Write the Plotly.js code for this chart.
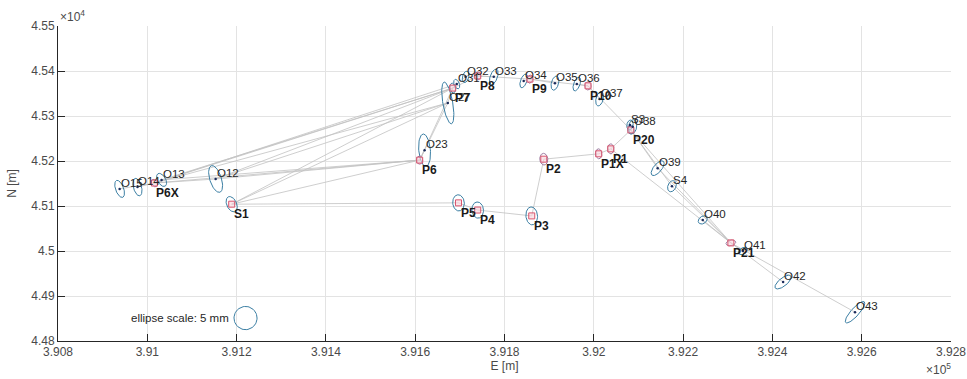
<!DOCTYPE html>
<html>
<head>
<meta charset="utf-8">
<script src="https://cdn.plot.ly/plotly-3.0.1.min.js"></script>
<style>html,body{margin:0;padding:0;background:#fff;}#chart{width:967px;height:379px;}</style>
</head>
<body>
<div id="chart"></div>
<script>
// ---- data ----
const pointNames = ['O15','O14','O13','P6X','O12','S1','O23','P6','O27','P7','O31','O32','P8','O33','O34','P9','O35','O36','P10','O37','S3','O38','P20','P1','P1X','P2','P3','P4','P5','O39','S4','O40','P21','O41','O42','O43'];
const pointE = [390938,390978,391032,391016,391153,391189,391621,391610,391673,391684,391693,391713,391740,391776,391843,391857,391913,391962,391987,392013,392081,392087,392083,392038,392011,391888,391861,391740,391697,392143,392175,392244,392307,392334,392424,392585];
const pointN = [45138,45142,45158,45151,45160,45104,45224,45202,45329,45362,45371,45387,45389,45387,45378,45382,45373,45371,45367,45338,45280,45276,45269,45227,45216,45204,45078,45091,45107,45184,45144,45069,45018,45000,44931,44864];
// station (bold, square) or observed point
const pointKind = ['o','o','o','s','o','s','o','s','o','s','o','o','s','o','o','s','o','o','s','o','o','o','s','s','s','s','s','s','s','o','o','o','s','o','o','o'];
// ellipse tint: b = blue, m = mauve
const ellTint = ['b','b','b','m','b','b','b','m','b','b','b','b','m','b','b','m','b','b','m','b','b','b','b','m','m','m','b','b','b','b','b','b','m','b','b','b'];
// error ellipse semi-axes [m] and orientation [deg]
const ellA = [20,20,16,9,31,18,36,9,47,11,11,13,9,18,16,9,16,16,9,16,11,16,9,11,11,13,20,18,18,20,13,11,11,11,22,31];
const ellB = [9,9,9,6,13,11,13,7,11,6,6,7,7,8,7,6,8,7,7,8,7,9,7,7,7,9,13,13,13,9,9,8,6,7,9,9];
const ellAng = [110,105,120,120,108,115,95,90,100,100,110,75,90,70,70,80,75,70,90,75,80,80,90,90,95,95,95,95,95,50,65,35,10,30,38,48];
const edges = [['P6X','O15'],['P6X','O14'],['P6X','O13'],['P6X','O12'],
 ['P7','P6X'],['P7','O13'],['P7','O12'],['P7','S1'],['O27','P6X'],['O27','O12'],['O31','P6X'],['O27','S1'],
 ['P6','P6X'],['P6','O13'],['P6','O12'],['P6','S1'],['P6','O23'],['P6','O27'],['P6','P7'],
 ['P7','O27'],['P7','O31'],['P7','O32'],['P7','P8'],['P8','O32'],['P8','O33'],['P8','P9'],
 ['P9','O34'],['P9','O35'],['P9','P10'],['P10','O36'],['P10','O37'],['P10','P20'],
 ['P20','S3'],['P20','O38'],['P20','P1'],['P1','P1X'],['P1X','P2'],['P2','P3'],['P3','P4'],['P4','P5'],['P5','S1'],
 ['P20','O39'],['P20','S4'],['P20','P21'],['P1','P21'],
 ['P21','O39'],['P21','S4'],['P21','O40'],['P21','O41'],['P21','O42'],['P21','O43']];
const scaleCircleE = 391220, scaleCircleN = 44851, scaleCircleR = 25.8;
const scaleText = 'ellipse scale: 5 mm';
const xTickVals = [390800,391000,391200,391400,391600,391800,392000,392200,392400,392600,392800];
const xTickText = ['3.908','3.91','3.912','3.914','3.916','3.918','3.92','3.922','3.924','3.926','3.928'];
const yTickVals = [44800,44900,45000,45100,45200,45300,45400,45500];
const yTickText = ['4.48','4.49','4.5','4.51','4.52','4.53','4.54','4.55'];

// ---- build ----
const idx = {}; pointNames.forEach((n,i)=>idx[n]=i);
const lx=[], ly=[];
edges.forEach(([a,b])=>{lx.push(pointE[idx[a]],pointE[idx[b]],null);ly.push(pointN[idx[a]],pointN[idx[b]],null);});

function ellipse(cx,cy,a,b,angDeg,xs,ys){
  const th=angDeg*Math.PI/180;
  for(let k=0;k<=60;k++){const t=2*Math.PI*k/60;
    xs.push(cx+a*Math.cos(th)*Math.cos(t)-b*Math.sin(th)*Math.sin(t));
    ys.push(cy+a*Math.sin(th)*Math.cos(t)+b*Math.cos(th)*Math.sin(t));}
  xs.push(null);ys.push(null);
}
const ebX=[],ebY=[],emX=[],emY=[];
pointNames.forEach((n,i)=>{
  if(ellTint[i]==='b') ellipse(pointE[i],pointN[i],ellA[i],ellB[i],ellAng[i],ebX,ebY);
  else ellipse(pointE[i],pointN[i],ellA[i],ellB[i],ellAng[i],emX,emY);
});
const cX=[],cY=[]; ellipse(scaleCircleE,scaleCircleN,scaleCircleR,scaleCircleR,0,cX,cY);

const oI = pointNames.map((n,i)=>i).filter(i=>pointKind[i]==='o');
const sI = pointNames.map((n,i)=>i).filter(i=>pointKind[i]==='s');

const traces = [
 {x:lx,y:ly,mode:'lines',line:{color:'#c2c2c2',width:0.8},hoverinfo:'skip'},
 {x:ebX,y:ebY,mode:'lines',line:{color:'#3a7ea3',width:1},hoverinfo:'skip'},
 {x:emX,y:emY,mode:'lines',line:{color:'#9c7aa0',width:1},hoverinfo:'skip'},
 {x:sI.map(i=>pointE[i]),y:sI.map(i=>pointN[i]),mode:'markers',
  marker:{symbol:'square',size:6,color:'rgba(248,210,218,0.6)',line:{color:'#d9566f',width:1}},hoverinfo:'skip'},
 {x:oI.map(i=>pointE[i]),y:oI.map(i=>pointN[i]),mode:'markers',
  marker:{symbol:'circle',size:2.5,color:'#1b2b5b'},hoverinfo:'skip'},
 {x:cX,y:cY,mode:'lines',line:{color:'#3a7ea3',width:1},hoverinfo:'skip'}
];

const ann = [];
pointNames.forEach((n,i)=>{
  if(pointKind[i]==='o') ann.push({x:pointE[i],y:pointN[i],text:n,showarrow:false,xanchor:'left',yanchor:'middle',xshift:-1,yshift:6,
     font:{family:'Liberation Sans, Arial, sans-serif',size:11.5,color:'#262626'}});
  else ann.push({x:pointE[i],y:pointN[i],text:'<b>'+n+'</b>',showarrow:false,xanchor:'left',yanchor:'middle',xshift:0,yshift:-10,
     font:{family:'Liberation Sans, Arial, sans-serif',size:12,color:'#1a1a1a'}});
});
ann.push({x:scaleCircleE-scaleCircleR*1.25,y:scaleCircleN,text:scaleText,showarrow:false,xanchor:'right',yanchor:'middle',
  font:{family:'Liberation Sans, Arial, sans-serif',size:11.5,color:'#262626'}});
ann.push({xref:'paper',yref:'paper',x:0,y:1,xanchor:'left',yanchor:'bottom',yshift:0,showarrow:false,text:'×10<sup>4</sup>',
  font:{family:'Liberation Sans, Arial, sans-serif',size:12,color:'#4a4a4a'}});
ann.push({xref:'paper',yref:'paper',x:1,y:0,xanchor:'right',yanchor:'top',yshift:-18,xshift:2,showarrow:false,text:'×10<sup>5</sup>',
  font:{family:'Liberation Sans, Arial, sans-serif',size:12,color:'#4a4a4a'}});

const axisFont = {family:'Liberation Sans, Arial, sans-serif',size:12,color:'#4a4a4a'};
const layout = {
  width:967,height:379,autosize:false,
  margin:{l:58,r:16,t:26,b:38},
  paper_bgcolor:'#fff',plot_bgcolor:'#fff',showlegend:false,
  xaxis:{range:[390800,392800],tickmode:'array',tickvals:xTickVals,ticktext:xTickText,
    showgrid:true,gridcolor:'#e3e3e3',gridwidth:1,zeroline:false,showline:true,linecolor:'#262626',linewidth:1,
    ticks:'inside',ticklen:7,tickcolor:'#262626',tickfont:axisFont,
    title:{text:'E [m]',font:axisFont,standoff:2}},
  yaxis:{range:[44800,45500],tickmode:'array',tickvals:yTickVals,ticktext:yTickText,
    showgrid:true,gridcolor:'#e3e3e3',gridwidth:1,zeroline:false,showline:true,linecolor:'#262626',linewidth:1,
    ticks:'inside',ticklen:7,tickcolor:'#262626',tickfont:axisFont,
    title:{text:'N [m]',font:axisFont,standoff:12}},
  annotations:ann
};
Plotly.newPlot('chart',traces,layout,{staticPlot:true,displayModeBar:false});
</script>
</body>
</html>
